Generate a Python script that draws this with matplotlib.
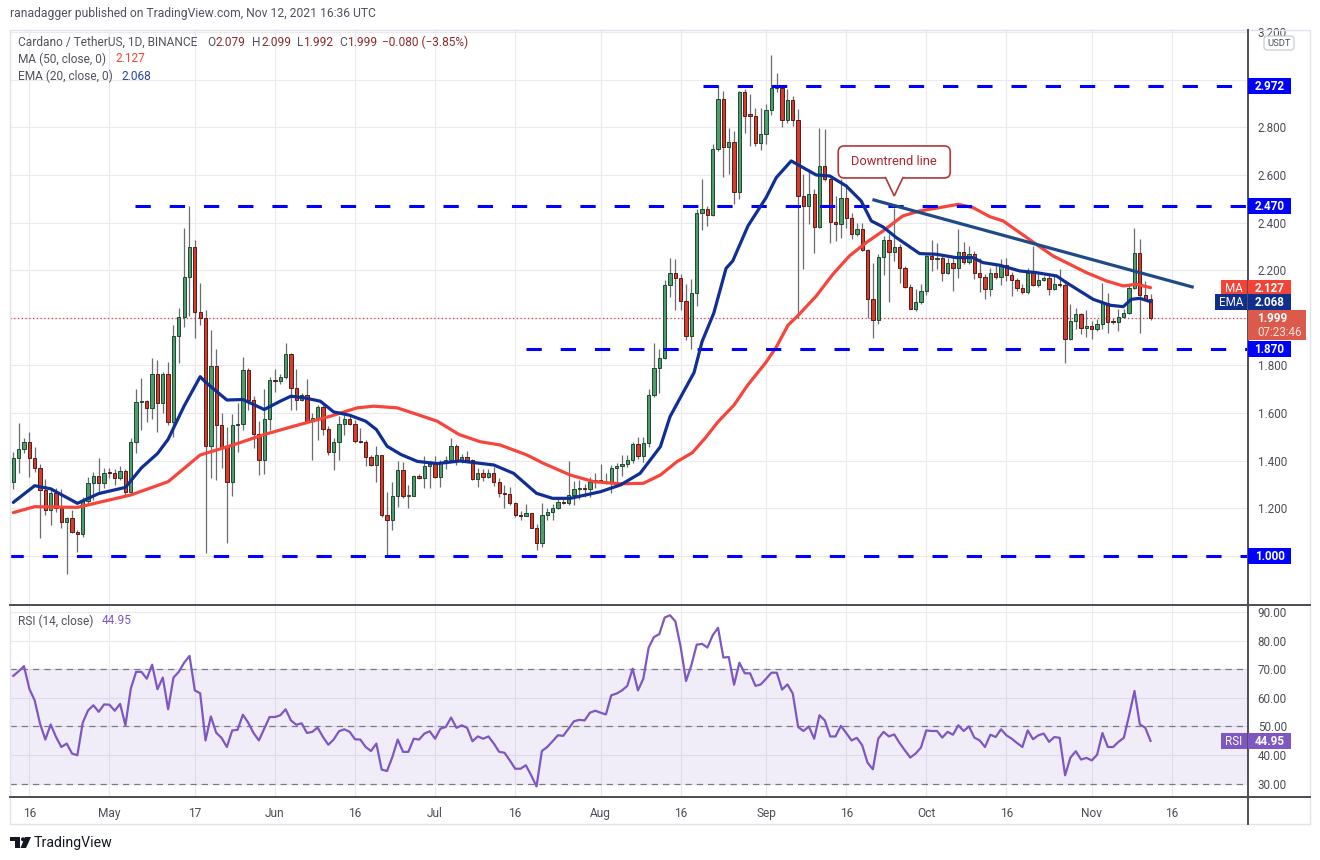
import numpy as np
import pandas as pd
import matplotlib
matplotlib.use("Agg")
import matplotlib.pyplot as plt
import matplotlib.transforms as mtransforms
from matplotlib.lines import Line2D
from matplotlib.patches import Rectangle, FancyBboxPatch, Polygon, Circle

plt.rcParams['font.family'] = ['Roboto', 'DejaVu Sans']

# daily ADA/USDT candles, 2021-04-13 .. 2021-11-12
start_date = "2021-04-13"
opens = [
    1.312, 1.410, 1.448, 1.477, 1.410, 1.368, 1.277, 1.193, 1.263, 1.200,
    1.141, 1.158, 1.099, 1.091, 1.232, 1.305, 1.336, 1.305, 1.350, 1.348,
    1.326, 1.358, 1.267, 1.477, 1.645, 1.651, 1.620, 1.763, 1.641, 1.763,
    1.564, 1.925, 2.005, 2.173, 2.296, 2.026, 2.001, 1.463, 1.799, 1.550,
    1.459, 1.312, 1.550, 1.553, 1.779, 1.653, 1.513, 1.402, 1.577, 1.740,
    1.733, 1.753, 1.847, 1.706, 1.657, 1.676, 1.566, 1.580, 1.626, 1.534,
    1.437, 1.479, 1.555, 1.577, 1.555, 1.482, 1.480, 1.416, 1.381, 1.423,
    1.170, 1.152, 1.253, 1.360, 1.250, 1.253, 1.337, 1.327, 1.376, 1.388,
    1.331, 1.395, 1.404, 1.461, 1.402, 1.415, 1.403, 1.324, 1.347, 1.333,
    1.347, 1.310, 1.263, 1.261, 1.224, 1.170, 1.169, 1.179, 1.119, 1.053,
    1.172, 1.183, 1.203, 1.228, 1.224, 1.256, 1.280, 1.284, 1.280, 1.310,
    1.319, 1.310, 1.305, 1.368, 1.378, 1.387, 1.403, 1.469, 1.420, 1.473,
    1.674, 1.791, 1.830, 2.136, 2.188, 2.167, 2.071, 1.923, 2.104, 2.442,
    2.456, 2.432, 2.708, 2.918, 2.718, 2.740, 2.529, 2.949, 2.855, 2.848,
    2.733, 2.771, 2.872, 2.964, 2.967, 2.831, 2.914, 2.831, 2.512, 2.470,
    2.519, 2.382, 2.638, 2.582, 2.404, 2.396, 2.505, 2.418, 2.351, 2.372,
    2.284, 2.081, 1.990, 2.257, 2.326, 2.278, 2.299, 2.208, 2.131, 2.039,
    2.068, 2.113, 2.260, 2.249, 2.253, 2.190, 2.232, 2.211, 2.278, 2.235,
    2.270, 2.190, 2.172, 2.120, 2.190, 2.173, 2.221, 2.180, 2.159, 2.127,
    2.109, 2.190, 2.137, 2.158, 2.169, 2.120, 2.144, 2.138, 1.913, 1.987,
    2.018, 1.956, 1.966, 1.952, 1.973, 2.064, 1.987, 1.983, 2.005, 2.022,
    2.127, 2.271, 2.096, 2.079,
]
highs = [
    1.438, 1.557, 1.494, 1.519, 1.456, 1.386, 1.322, 1.284, 1.287, 1.280,
    1.165, 1.193, 1.109, 1.249, 1.333, 1.354, 1.413, 1.368, 1.368, 1.364,
    1.378, 1.364, 1.494, 1.700, 1.746, 1.655, 1.830, 1.823, 1.774, 1.816,
    1.970, 2.040, 2.376, 2.470, 2.327, 2.148, 2.033, 1.949, 1.868, 1.599,
    1.540, 1.595, 1.641, 1.836, 1.790, 1.670, 1.566, 1.702, 1.751, 1.784,
    1.763, 1.893, 1.854, 1.784, 1.683, 1.742, 1.601, 1.636, 1.636, 1.545,
    1.496, 1.587, 1.594, 1.597, 1.573, 1.538, 1.486, 1.426, 1.460, 1.426,
    1.267, 1.310, 1.398, 1.393, 1.296, 1.340, 1.345, 1.421, 1.398, 1.421,
    1.403, 1.418, 1.496, 1.472, 1.430, 1.440, 1.406, 1.368, 1.364, 1.364,
    1.372, 1.327, 1.298, 1.289, 1.228, 1.190, 1.218, 1.182, 1.133, 1.224,
    1.200, 1.218, 1.242, 1.249, 1.399, 1.315, 1.319, 1.301, 1.333, 1.347,
    1.385, 1.347, 1.382, 1.392, 1.424, 1.424, 1.480, 1.498, 1.498, 1.701,
    1.894, 1.868, 2.160, 2.250, 2.247, 2.186, 2.143, 2.164, 2.456, 2.582,
    2.470, 2.729, 2.974, 2.953, 2.799, 2.785, 2.953, 2.960, 2.939, 2.883,
    2.883, 2.897, 3.103, 3.030, 2.974, 2.960, 2.932, 2.876, 2.603, 2.624,
    2.540, 2.799, 2.792, 2.589, 2.512, 2.582, 2.561, 2.442, 2.400, 2.400,
    2.290, 2.232, 2.267, 2.344, 2.351, 2.460, 2.309, 2.218, 2.141, 2.123,
    2.141, 2.274, 2.326, 2.313, 2.263, 2.253, 2.257, 2.375, 2.319, 2.302,
    2.281, 2.253, 2.183, 2.211, 2.225, 2.246, 2.253, 2.193, 2.169, 2.141,
    2.211, 2.302, 2.190, 2.176, 2.183, 2.176, 2.204, 2.151, 2.060, 2.043,
    2.022, 2.032, 1.987, 1.994, 2.145, 2.106, 2.001, 2.039, 2.039, 2.137,
    2.379, 2.333, 2.155, 2.099,
]
lows = [
    1.281, 1.350, 1.431, 1.333, 1.354, 1.074, 1.172, 1.130, 1.186, 1.116,
    0.923, 1.095, 1.018, 1.081, 1.214, 1.235, 1.263, 1.287, 1.326, 1.298,
    1.319, 1.256, 1.256, 1.431, 1.529, 1.564, 1.574, 1.519, 1.599, 1.550,
    1.501, 1.812, 1.963, 2.008, 1.917, 1.970, 1.011, 1.326, 1.319, 1.368,
    1.053, 1.252, 1.438, 1.530, 1.615, 1.454, 1.338, 1.345, 1.528, 1.690,
    1.723, 1.742, 1.612, 1.612, 1.650, 1.559, 1.402, 1.486, 1.510, 1.423,
    1.360, 1.402, 1.510, 1.550, 1.475, 1.475, 1.376, 1.376, 1.309, 1.165,
    1.000, 1.110, 1.204, 1.245, 1.200, 1.250, 1.322, 1.285, 1.287, 1.326,
    1.290, 1.364, 1.397, 1.383, 1.390, 1.400, 1.320, 1.289, 1.316, 1.326,
    1.292, 1.249, 1.200, 1.214, 1.165, 1.151, 1.168, 1.116, 1.025, 1.039,
    1.151, 1.151, 1.197, 1.218, 1.214, 1.214, 1.239, 1.249, 1.249, 1.284,
    1.305, 1.303, 1.263, 1.305, 1.336, 1.375, 1.392, 1.406, 1.396, 1.459,
    1.669, 1.683, 1.826, 2.087, 2.031, 2.031, 1.908, 1.868, 2.050, 2.369,
    2.387, 2.428, 2.700, 2.592, 2.603, 2.477, 2.498, 2.778, 2.722, 2.722,
    2.704, 2.732, 2.850, 2.950, 2.801, 2.820, 2.806, 2.000, 2.204, 2.393,
    2.274, 2.379, 2.575, 2.316, 2.323, 2.337, 2.379, 2.330, 2.344, 2.281,
    2.000, 1.917, 1.973, 2.182, 2.068, 2.239, 2.148, 2.127, 2.036, 2.029,
    2.057, 2.096, 2.197, 2.204, 2.155, 2.183, 2.113, 2.169, 2.225, 2.228,
    2.162, 2.109, 2.081, 2.092, 2.162, 2.137, 2.155, 2.092, 2.113, 2.102,
    2.099, 2.134, 2.130, 2.155, 2.095, 2.116, 2.130, 1.809, 1.908, 1.952,
    1.931, 1.920, 1.913, 1.945, 1.952, 1.938, 1.973, 1.945, 2.001, 2.015,
    2.123, 1.938, 2.078, 1.992,
]
closes = [
    1.410, 1.448, 1.477, 1.410, 1.368, 1.277, 1.193, 1.263, 1.200, 1.141,
    1.158, 1.099, 1.091, 1.232, 1.305, 1.336, 1.305, 1.350, 1.348, 1.326,
    1.358, 1.267, 1.477, 1.645, 1.651, 1.620, 1.763, 1.641, 1.763, 1.564,
    1.925, 2.005, 2.173, 2.296, 2.026, 2.001, 1.463, 1.799, 1.550, 1.459,
    1.312, 1.550, 1.553, 1.779, 1.653, 1.513, 1.402, 1.577, 1.737, 1.733,
    1.753, 1.847, 1.706, 1.657, 1.676, 1.566, 1.580, 1.626, 1.534, 1.437,
    1.479, 1.555, 1.577, 1.555, 1.482, 1.480, 1.416, 1.381, 1.423, 1.170,
    1.152, 1.253, 1.360, 1.250, 1.253, 1.337, 1.327, 1.376, 1.388, 1.331,
    1.395, 1.404, 1.461, 1.402, 1.415, 1.403, 1.324, 1.347, 1.333, 1.347,
    1.310, 1.263, 1.261, 1.224, 1.170, 1.169, 1.179, 1.119, 1.053, 1.172,
    1.183, 1.203, 1.228, 1.224, 1.256, 1.280, 1.284, 1.280, 1.310, 1.319,
    1.310, 1.305, 1.368, 1.378, 1.387, 1.403, 1.469, 1.420, 1.473, 1.674,
    1.791, 1.830, 2.136, 2.188, 2.167, 2.071, 1.923, 2.104, 2.442, 2.456,
    2.432, 2.708, 2.918, 2.718, 2.740, 2.529, 2.949, 2.848, 2.848, 2.733,
    2.771, 2.872, 2.964, 2.967, 2.831, 2.914, 2.831, 2.512, 2.470, 2.519,
    2.382, 2.638, 2.582, 2.404, 2.396, 2.505, 2.418, 2.351, 2.372, 2.284,
    2.081, 1.990, 2.257, 2.326, 2.278, 2.299, 2.208, 2.131, 2.039, 2.068,
    2.113, 2.260, 2.249, 2.253, 2.190, 2.232, 2.211, 2.278, 2.235, 2.270,
    2.190, 2.172, 2.120, 2.190, 2.173, 2.221, 2.180, 2.159, 2.127, 2.109,
    2.190, 2.137, 2.158, 2.169, 2.120, 2.144, 2.138, 1.913, 1.987, 2.018,
    1.956, 1.966, 1.952, 1.973, 2.064, 1.983, 1.983, 2.005, 2.022, 2.127,
    2.271, 2.096, 2.079, 1.999,
]

rsi = [
    67.7, 69.3, 71.1, 63.2, 59.1, 51.0, 45.4, 50.7, 46.3, 42.8,
    44.0, 40.5, 39.9, 51.3, 55.6, 57.4, 55.1, 57.7, 57.6, 55.5,
    57.9, 50.4, 63.2, 69.1, 69.1, 66.7, 71.6, 63.0, 67.1, 56.0,
    67.1, 69.1, 72.3, 74.7, 62.6, 61.6, 45.1, 53.5, 47.8, 46.0,
    42.8, 48.6, 48.8, 54.1, 51.3, 47.7, 45.1, 49.2, 53.3, 53.3,
    53.9, 56.0, 52.1, 50.6, 51.1, 47.7, 48.1, 49.6, 46.3, 43.6,
    45.4, 48.3, 49.0, 48.1, 45.5, 45.4, 42.8, 41.4, 44.0, 34.9,
    34.4, 39.3, 45.4, 41.1, 41.1, 45.7, 45.4, 47.5, 48.3, 45.7,
    49.2, 49.8, 53.1, 49.5, 50.4, 49.5, 44.8, 46.5, 45.7, 46.5,
    44.0, 41.1, 40.8, 38.1, 35.2, 35.2, 36.4, 32.9, 29.0, 41.4,
    42.8, 44.8, 46.9, 46.7, 49.2, 51.8, 52.3, 52.1, 54.8, 55.5,
    54.8, 54.2, 60.9, 61.5, 62.6, 64.2, 70.2, 62.6, 66.7, 77.6,
    81.3, 82.3, 88.1, 88.9, 86.8, 77.8, 65.9, 71.4, 78.6, 78.9,
    77.6, 81.9, 84.5, 74.1, 74.3, 64.6, 72.3, 68.6, 68.6, 64.2,
    64.7, 66.7, 68.8, 68.8, 62.9, 64.7, 61.5, 49.8, 48.4, 50.0,
    45.7, 53.9, 52.1, 46.5, 46.5, 50.2, 47.7, 45.1, 46.0, 43.4,
    37.3, 35.0, 45.7, 48.1, 46.5, 47.2, 44.2, 41.6, 39.1, 40.5,
    42.6, 48.6, 48.4, 48.4, 46.1, 48.1, 47.1, 50.4, 48.4, 50.0,
    46.1, 45.1, 42.8, 47.1, 46.3, 49.0, 46.9, 45.7, 44.2, 42.8,
    48.6, 45.5, 46.9, 47.5, 44.6, 46.3, 46.0, 32.9, 39.1, 41.3,
    38.4, 39.0, 38.1, 40.1, 47.7, 42.8, 42.8, 44.6, 46.0, 53.9,
    62.4, 50.7, 49.6, 44.95,
]

# moving averages, sampled from the chart (day index from start_date)
ma_days = [0, 4, 12, 22, 29, 35, 41, 47, 53, 59.4,
           64.4, 67.5, 71.9, 75.7, 79.4, 83.5, 87.4, 91.2, 96.2, 99.3,
           104.3, 108.7, 113.7, 118, 121.2, 124.3, 127.2, 129.7, 131.9, 135,
           137.5, 141, 142.9, 145.1, 146.9, 150.4, 153.5, 156.6, 159.75, 162.9,
           166.6, 169.75, 173.5, 177, 179.75, 182.9, 185.4, 188.5, 191.6, 194.75,
           197.25, 201, 204.75, 207.9, 210.4, 213]
ma_vals = [1.182, 1.207, 1.204, 1.256, 1.312, 1.424, 1.465, 1.510, 1.548, 1.587,
           1.622, 1.629, 1.622, 1.594, 1.566, 1.510, 1.480, 1.466, 1.424, 1.389,
           1.340, 1.312, 1.303, 1.305, 1.340, 1.396, 1.434, 1.498, 1.561, 1.634,
           1.716, 1.814, 1.877, 1.969, 2.008, 2.092, 2.183, 2.260, 2.316, 2.365,
           2.428, 2.449, 2.463, 2.477, 2.463, 2.425, 2.407, 2.358, 2.309, 2.260,
           2.232, 2.190, 2.155, 2.134, 2.141, 2.127]
ema_days = [0, 4, 7, 12, 16, 21, 24, 27, 29, 32,
            35, 36, 40, 43, 47, 50, 52, 54.5, 57.5, 60,
            63, 66, 68, 70, 72.6, 75.7, 79.4, 83.7, 90, 93.7,
            98, 101, 104.3, 110, 113.7, 117.4, 121.2, 123, 125.3, 127.5,
            129, 131.2, 133.5, 134.75, 137.6, 141, 142.9, 145.7, 148.8, 150.4,
            152.9, 156, 158.8, 160.7, 162.9, 165.4, 169.75, 172.9, 176.6, 179.75,
            181.6, 184.75, 188.5, 191.6, 195.4, 197.25, 199.75, 202.25, 205.4, 207.9,
            209.4, 211, 213]
ema_vals = [1.225, 1.295, 1.282, 1.221, 1.262, 1.288, 1.370, 1.430, 1.490, 1.630,
            1.753, 1.730, 1.655, 1.657, 1.615, 1.650, 1.671, 1.664, 1.650, 1.605,
            1.591, 1.566, 1.531, 1.461, 1.426, 1.397, 1.388, 1.399, 1.382, 1.347,
            1.263, 1.242, 1.242, 1.270, 1.298, 1.347, 1.459, 1.585, 1.680, 1.770,
            1.900, 2.020, 2.208, 2.239, 2.386, 2.505, 2.589, 2.659, 2.620, 2.600,
            2.596, 2.554, 2.491, 2.407, 2.382, 2.337, 2.270, 2.267, 2.253, 2.253,
            2.232, 2.221, 2.197, 2.190, 2.176, 2.148, 2.113, 2.078, 2.053, 2.047,
            2.078, 2.082, 2.068]

# horizontal support / resistance levels and the day they start
levels = [2.972, 2.470, 1.870, 1.000]
level_start = [129.2, 22.8, 96.0, -1.0]

# downtrend line end points
trend_days = [161.2, 220.8]
trend_vals = [2.495, 2.130]

# annotation
callout_text = "Downtrend line"
callout_day, callout_price = 165.0, 2.512

tick_dates = ["2021-04-16", "2021-05-01", "2021-05-17", "2021-06-01", "2021-06-16",
              "2021-07-01", "2021-07-16", "2021-08-01", "2021-08-16", "2021-09-01",
              "2021-09-16", "2021-10-01", "2021-10-16", "2021-11-01", "2021-11-16"]

price_ticks = [1.2, 1.4, 1.6, 1.8, 2.2, 2.4, 2.6, 2.8, 3.2]  # the rest sit under tags
price_grid = [1.0, 1.2, 1.4, 1.6, 1.8, 2.0, 2.2, 2.4, 2.6, 2.8, 3.0, 3.2]

last_close, ma_last, ema_last, rsi_last = 1.999, 2.127, 2.068, 44.95

# ------------------------------------------------------------------
dates = pd.date_range(start_date, periods=len(closes), freq="D")
x = np.arange(len(closes))
o = np.array(opens)
c = np.array(closes)

W, H = 1320, 860
fig = plt.figure(figsize=(W / 100, H / 100), dpi=100)
fig.patch.set_facecolor("white")
px = mtransforms.Affine2D().scale(1, -1).translate(0, H)  # top-left pixel coords


def fpos(l, t, r, b):
    return [l / W, 1 - b / H, (r - l) / W, (b - t) / H]


ax = fig.add_axes(fpos(10, 30, 1248, 605))
ax_rsi = fig.add_axes(fpos(10, 605, 1248, 797))
xlim = (-0.62, 231.26)

grid_col = "#e9e9ee"
txt_col = "#4a4d57"

# candles
up = c >= o
body = np.maximum(np.abs(c - o), 0.004)
ax.vlines(x, lows, highs, color="#6c6c70", lw=0.9, zorder=3)
ax.bar(x, body, bottom=np.minimum(o, c), width=0.62,
       color=np.where(up, "#4f9d6d", "#d23d30"),
       edgecolor=np.where(up, "#1c4a30", "#5a1b14"), linewidth=0.7, zorder=4)

ax.plot(ma_days, ma_vals, color="#f6453a", lw=2.3, zorder=5, solid_capstyle="round")
ax.plot(ema_days, ema_vals, color="#102f95", lw=2.3, zorder=6, solid_capstyle="round")
ax.plot(trend_days, trend_vals, color="#1e4a88", lw=2.3, zorder=6)

for lvl, s in zip(levels, level_start):
    ax.plot([s, xlim[1]], [lvl, lvl], color="#0000ff", lw=2.2,
            linestyle=(0, (5, 6.2)), zorder=5)

ax.axhline(last_close, color="#f23645", lw=0.9, linestyle=(0, (1, 2)), zorder=2)

ax.set_xlim(*xlim)
ax.set_ylim(0.794, 3.209)

tick_days = [(pd.Timestamp(t) - dates[0]).days for t in tick_dates]
tick_labels = [pd.Timestamp(t).strftime("%b") if pd.Timestamp(t).day == 1
               else str(pd.Timestamp(t).day) for t in tick_dates]

for a in (ax, ax_rsi):
    a.set_facecolor("white")
    a.set_xticks(tick_days)
    a.grid(True, color=grid_col, lw=0.8)
    a.set_axisbelow(True)
    a.yaxis.tick_right()
    a.tick_params(length=0, labelsize=8.4, labelcolor=txt_col, pad=7)
    for sp in a.spines.values():
        sp.set_visible(False)

ax.set_xticklabels([])
ax.set_yticks(price_ticks)
ax.set_yticklabels([f"{v:.3f}" for v in price_ticks])
ax.set_yticks(price_grid, minor=True)
ax.grid(True, which="minor", axis="y", color=grid_col, lw=0.8)
ax.tick_params(which="minor", length=0)

# RSI pane
ax_rsi.fill_between(xlim, 30, 70, color="#7e57c2", alpha=0.1, lw=0, zorder=1)
for lv in (70, 50, 30):
    ax_rsi.axhline(lv, color="#787b86", lw=0.9, linestyle=(0, (5, 4)), zorder=2)
ax_rsi.plot(x, rsi, color="#7e57c2", lw=1.6, zorder=3)
ax_rsi.set_xlim(*xlim)
ax_rsi.set_ylim(25.3, 92.5)
ax_rsi.set_yticks(np.arange(30, 91, 10))
ax_rsi.set_yticklabels([f"{v:.2f}" for v in np.arange(30, 91, 10)])
ax_rsi.set_xticklabels(tick_labels)
ax_rsi.tick_params(axis="x", pad=7, labelsize=8.6)


# ---- frame lines (pixel coordinates, origin top-left)
def px_line(xs, ys, color, lw, z=15):
    fig.add_artist(Line2D(xs, ys, transform=px, color=color, lw=lw, zorder=z))


px_line([10, 1310, 1310, 10, 10], [30, 30, 824, 824, 30], "#e0e3eb", 1.0)
px_line([10, 1310], [605, 605], "#4b4e57", 1.4)
px_line([10, 1310], [797, 797], "#4b4e57", 1.4)
px_line([1248, 1248], [30, 824], "#4b4e57", 1.4)


def value_y(a, v):
    return H - a.transData.transform((0, v))[1]


def box(x0, y0, w, h, fc, z=20):
    fig.add_artist(Rectangle((x0, y0), w, h, transform=px, fc=fc, ec="none", zorder=z))


def tag(a, v, text, fc, label=None, label_w=26, w=43, h=16):
    y = value_y(a, v)
    box(1248, y - h / 2, w, h, fc)
    fig.text(1248 + w / 2, y + 0.5, text, transform=px, ha="center", va="center",
             color="white", fontsize=8.4, weight="bold", zorder=21)
    if label:
        box(1247 - label_w, y - h / 2, label_w, h, fc)
        fig.text(1247 - label_w / 2, y + 0.5, label, transform=px, ha="center",
                 va="center", color="white", fontsize=8.4, zorder=21)


for lvl in levels:
    tag(ax, lvl, f"{lvl:.3f}", "#0000ff")
tag(ax, ma_last, f"{ma_last:.3f}", "#f44336", label="MA", label_w=26)
tag(ax, ema_last, f"{ema_last:.3f}", "#0f2e8e", label="EMA", label_w=32)
tag(ax_rsi, rsi_last, f"{rsi_last:.2f}", "#7e57c2", label="RSI", label_w=26)

# last price + countdown tag
yc = value_y(ax, last_close)
box(1248, yc - 8, 58, 30, "#dc5a4c")
fig.text(1257, yc + 0.5, f"{last_close:.3f}", transform=px, ha="left", va="center",
         color="white", fontsize=8.4, weight="bold", zorder=21)
fig.text(1257, yc + 14.5, "07:23:46", transform=px, ha="left", va="center",
         color="#fbe3e0", fontsize=8.4, zorder=21)

# USDT badge
fig.add_artist(FancyBboxPatch((1264, 36), 30, 14, boxstyle="round,pad=0,rounding_size=3",
                              transform=px, fc="white", ec="#c4c6cc", lw=0.8, zorder=20))
fig.text(1279, 43.5, "USDT", transform=px, ha="center", va="center",
         color="#50535e", fontsize=6.8, zorder=21)

# ---- callout
tx, ty = ax.transData.transform((callout_day, callout_price))
ty = H - ty
red = "#b3373b"
fig.add_artist(FancyBboxPatch((tx - 56, ty - 50), 112, 32,
                              boxstyle="round,pad=0,rounding_size=6",
                              transform=px, fc="white", ec=red, lw=1.2, zorder=30))
fig.add_artist(Polygon([(tx - 9, ty - 19), (tx, ty), (tx + 9, ty - 19)], closed=False,
                       transform=px, fc="white", ec=red, lw=1.2, zorder=31))
fig.text(tx, ty - 34, callout_text, transform=px, ha="center", va="center",
         color="#b2242a", fontsize=9.3, zorder=32)

# ---- header texts
gray = "#50535e"
vcol = "#8b2a2a"


def htext(x0, y0, s, color=gray, size=8.6):
    fig.text(x0, y0, s, transform=px, ha="left", va="center", color=color,
             fontsize=size, zorder=25)


htext(10, 14, "ranadagger published on TradingView.com, Nov 12, 2021 16:36 UTC", size=8.7)
htext(18, 42, "Cardano / TetherUS, 1D, BINANCE")
for xl, letter, xv, val in [(207, "O", 216, opens[-1]), (252, "H", 261, highs[-1]),
                            (297, "L", 303, lows[-1]), (339, "C", 347, closes[-1])]:
    htext(xl, 42, letter)
    htext(xv, 42, f"{val:.3f}", color=vcol)
chg = closes[-1] - closes[-2]
htext(382, 42, f"\u2212{abs(chg):.3f} (\u2212{abs(chg) / closes[-2] * 100:.2f}%)", color=vcol)
htext(18, 59, "MA (50, close, 0)")
htext(116, 59, f"{ma_last:.3f}", color="#f44336")
htext(18, 76, "EMA (20, close, 0)")
htext(122, 76, f"{ema_last:.3f}", color="#2a45a8")
htext(18, 621, "RSI (14, close)")
htext(102, 621, f"{rsi_last:.2f}", color="#7e57c2")

# ---- TradingView logo
logo = "#131722"
fig.add_artist(Polygon([(10, 837), (20, 837), (20, 848), (15, 848), (15, 841), (10, 841)],
                       closed=True, transform=px, fc=logo, ec="none"))
fig.add_artist(Circle((23, 839.3), 2.0, transform=px, fc=logo, ec="none"))
fig.add_artist(Polygon([(25, 837), (31, 837), (26, 848), (20.5, 848)],
                       closed=True, transform=px, fc=logo, ec="none"))
fig.text(34, 843, "TradingView", transform=px, ha="left", va="center",
         color=logo, fontsize=10.2)

fig.savefig("out.png", dpi=100, facecolor="white")
